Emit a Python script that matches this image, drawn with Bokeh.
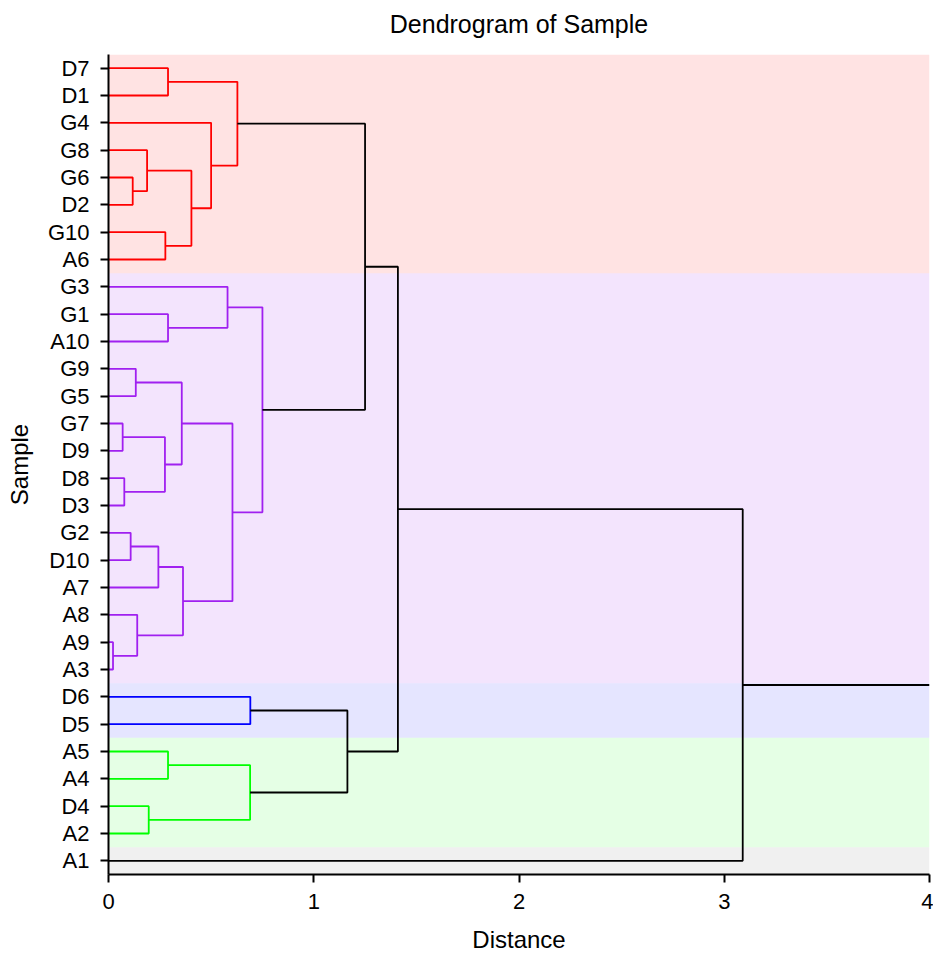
from bokeh.plotting import figure
from bokeh.models import Range1d, FixedTicker, Title
from bokeh.embed import file_html
from bokeh.resources import INLINE

# ---------------- data ----------------
title_text = "Dendrogram of Sample"
# leaves, top to bottom as drawn
leaves = ["D7", "D1", "G4", "G8", "G6", "D2", "G10", "A6",
          "G3", "G1", "A10", "G9", "G5", "G7", "D9", "D8", "D3", "G2", "D10", "A7", "A8", "A9", "A3",
          "D6", "D5",
          "A5", "A4", "D4", "A2",
          "A1"]
leaf_cluster = ["red"] * 8 + ["purple"] * 15 + ["blue"] * 2 + ["green"] * 4 + ["grey"] * 1

# merges: child a, child b (leaf label or 1-based earlier merge number), height
merge_a = ["A9", "G7", "D8", "G2", "G6", "G9", "A8", "G8", "D4", 4,
           2, "G10", "D7", "G1", "A5", 6, 10, 8, "G4", "G3",
           16, 13, "D6", 15, 20, 23, 22, 27, 28]
merge_b = ["A3", "D9", "D3", "D10", "D2", "G5", 1, 5, "A2", "A7",
           3, "A6", "D1", "A10", "A4", 11, 7, 12, 18, 14,
           17, 19, "D5", 9, 21, 24, 25, 26, "A1"]
merge_h = [0.022, 0.069, 0.077, 0.108, 0.118, 0.133, 0.140, 0.188, 0.196, 0.243,
           0.275, 0.277, 0.290, 0.290, 0.290, 0.357, 0.363, 0.404, 0.500, 0.580,
           0.604, 0.628, 0.691, 0.690, 0.750, 1.164, 1.250, 1.410, 3.090]

cluster_names = ["red", "purple", "blue", "green", "grey"]
line_colors = {"red": "#FF0000", "purple": "#A020F0", "blue": "#0000FF", "green": "#00FF00", "grey": "#000000"}
band_colors = {"red": "#FF0000", "purple": "#A020F0", "blue": "#0000FF", "green": "#00FF00", "grey": "#000000"}
band_alpha = {"red": 0.11, "purple": 0.12, "blue": 0.10, "green": 0.10, "grey": 0.06}

x_ticks = [0, 1, 2, 3, 4]
x_max = 4

# ---------------- geometry from tree ----------------
n = len(leaves)
leaf_y = {lab: n - 1 - i for i, lab in enumerate(leaves)}
leaf_cl = dict(zip(leaves, leaf_cluster))

node_y, node_h, node_cl = {}, {}, {}
for lab in leaves:
    node_y[lab] = leaf_y[lab]
    node_h[lab] = 0.0
    node_cl[lab] = {leaf_cl[lab]}

xs, ys, cols = [], [], []
for k, (a, b, h) in enumerate(zip(merge_a, merge_b, merge_h), start=1):
    ya, yb = node_y[a], node_y[b]
    cl = node_cl[a] | node_cl[b]
    col = line_colors[next(iter(cl))] if len(cl) == 1 else "#000000"
    xs.append([node_h[a], h, h, node_h[b]])
    ys.append([ya, ya, yb, yb])
    cols.append(col)
    node_y[k] = (ya + yb) / 2
    node_h[k] = h
    node_cl[k] = cl

root = len(merge_h)
xs.append([node_h[root], x_max])
ys.append([node_y[root], node_y[root]])
cols.append("#000000")

# bands
bl, bb, bt, bc, ba = [], [], [], [], []
for c in cluster_names:
    yy = [leaf_y[l] for l in leaves if leaf_cl[l] == c]
    bl.append(0)
    bb.append(min(yy) - 0.5)
    bt.append(max(yy) + 0.5)
    bc.append(band_colors[c])
    ba.append(band_alpha[c])

# ---------------- figure ----------------
FONT = "Liberation Sans"
p = figure(width=933, height=955, x_range=Range1d(0, x_max), y_range=Range1d(-0.5, n - 0.5),
           output_backend="svg", toolbar_location=None,
           min_border_left=108, min_border_right=4, min_border_top=54, min_border_bottom=81)
p.outline_line_color = None
p.xgrid.visible = False
p.ygrid.visible = False

# spacer panel between plot area and title, then the title itself
p.add_layout(Title(text=" ", text_font=FONT, text_font_size="8px", standoff=0), "above")
p.add_layout(Title(text=title_text, align="center", text_font=FONT, text_font_size="25px",
                   text_font_style="normal", text_color="#000000", standoff=12), "above")

p.quad(left=bl, right=[x_max] * len(bl), bottom=bb, top=bt, fill_color=bc, fill_alpha=ba, line_color=None)
p.multi_line(xs=xs, ys=ys, line_color=cols, line_width=1.8)

for ax in (p.xaxis[0], p.yaxis[0]):
    ax.axis_line_width = 2
    ax.axis_line_color = "#000000"
    ax.major_tick_line_width = 2
    ax.major_tick_line_color = "#000000"
    ax.major_tick_out = 8
    ax.major_tick_in = 0
    ax.minor_tick_line_color = None
    ax.major_label_text_font = FONT
    ax.major_label_text_font_size = "22px"
    ax.major_label_text_color = "#000000"
    ax.axis_label_text_font = FONT
    ax.axis_label_text_font_style = "normal"
    ax.axis_label_text_color = "#000000"
    ax.axis_label_text_font_size = "24px"

p.xaxis.ticker = FixedTicker(ticks=x_ticks)
p.xaxis.axis_label = "Distance"
p.xaxis.major_label_standoff = 11
p.xaxis.axis_label_standoff = 14

p.yaxis.ticker = FixedTicker(ticks=list(range(n)))
p.yaxis.major_label_overrides = {leaf_y[l]: l for l in leaves}
p.yaxis.axis_label = "Sample"
p.yaxis.major_label_standoff = 11
p.yaxis.axis_label_standoff = 12

open("out.html", "w").write(file_html(p, INLINE))
